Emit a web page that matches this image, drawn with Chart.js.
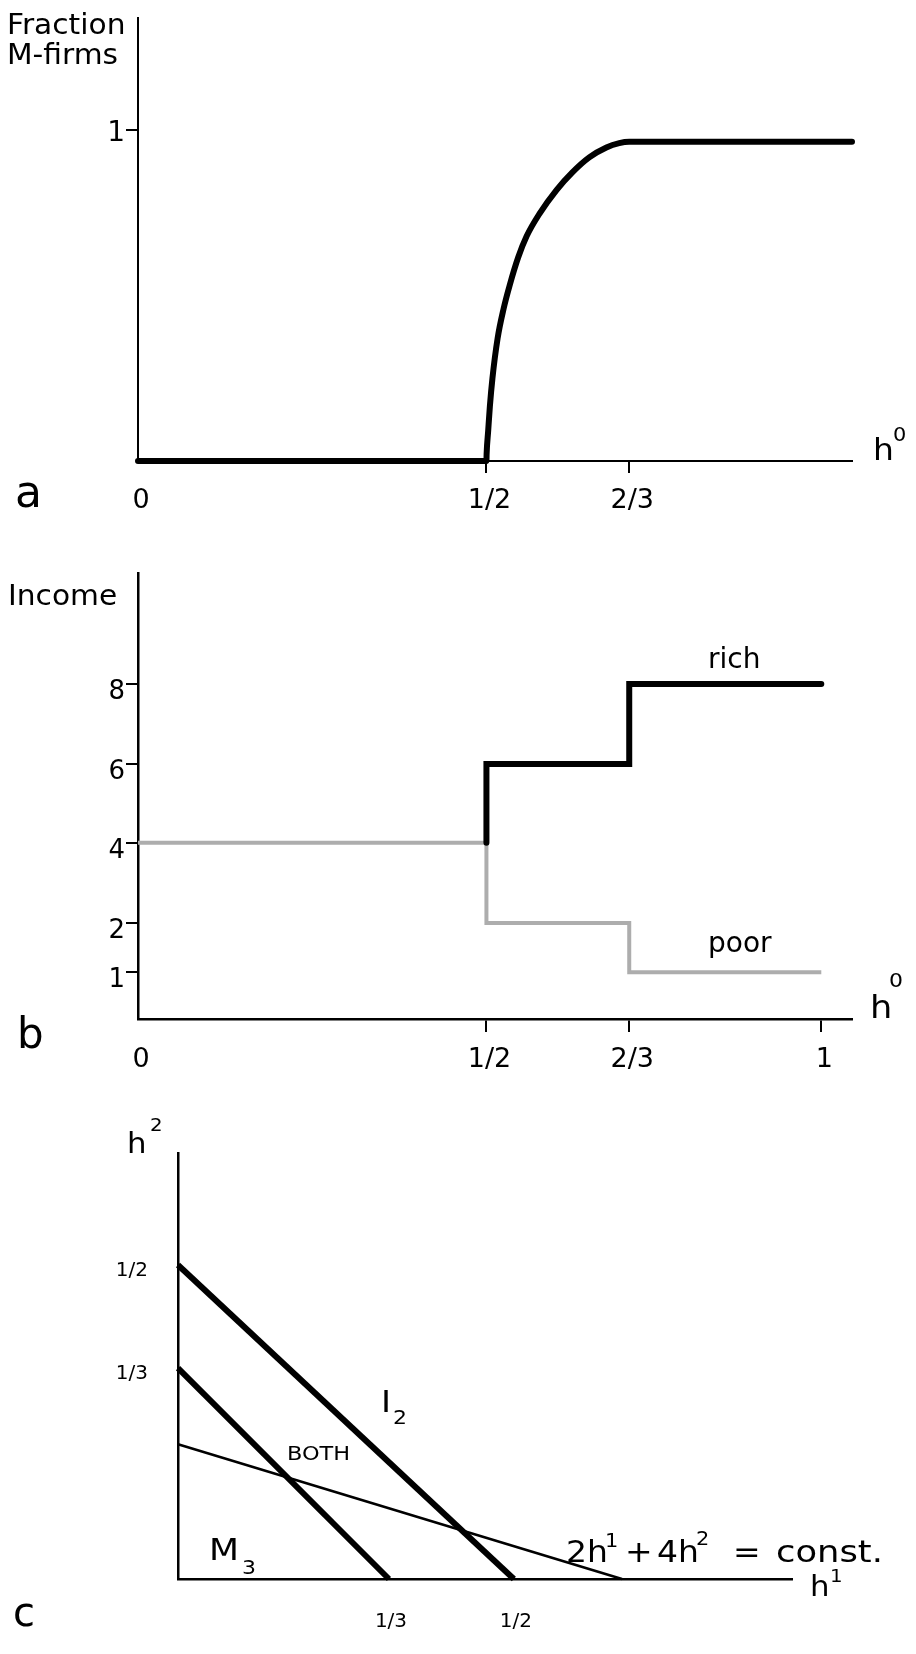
<!DOCTYPE html>
<html>
<head>
<meta charset="utf-8">
<title>Fraction of M-firms, income, and the h1-h2 plane</title>
<script src="https://cdn.jsdelivr.net/npm/chart.js@4.4.1/dist/chart.umd.min.js"></script>
<style>
  html, body { margin: 0; padding: 0; background: #fff; }
  #wrap { position: relative; width: 916px; height: 1654px; }
  canvas { position: absolute; left: 0; top: 0; }
</style>
</head>
<body>
<div id="wrap">
  <canvas id="chartA" width="916" height="1654"></canvas>
  <canvas id="chartB" width="916" height="1654"></canvas>
  <canvas id="chartC" width="916" height="1654"></canvas>
</div>
<script>
// panel a: fraction of M-firms against h0
const mfirmsH0 = [0, 0.5, 0.5002, 0.502, 0.504, 0.507, 0.513, 0.52, 0.527, 0.537, 0.547, 0.562, 0.582, 0.6, 0.62, 0.64, 0.655, 2/3, 1.054];
const mfirmsShare = [0, 0, 0.02, 0.09, 0.165, 0.25, 0.37, 0.46, 0.53, 0.615, 0.68, 0.748, 0.82, 0.872, 0.918, 0.948, 0.961, 0.965, 0.965];

// panel b: income of rich and poor (drawn as steps)
const richH0 = [1/2, 1/2, 2/3, 1];
const richIncome = [4, 6, 8, 8];
const poorH0 = [0, 1/2, 2/3, 1];
const poorIncome = [4, 2, 1, 1];

// panel c: lines in the h1-h2 plane
const m3H1 = [0, 1/3];
const m3H2 = [1/3, 0];
const i2H1 = [0, 1/2];
const i2H2 = [1/2, 0];
const isoH1 = [0, 0.645];
const isoH2 = [0.213, 0];

// tick values and labels
const h0TicksA = [0, 1/2, 2/3];
const h0TicksB = [0, 1/2, 2/3, 1];
const h0Labels = ['0', '1/2', '2/3', '1'];
const fracTicks = [1];
const fracLabels = ['1'];
const incomeTicks = [1, 2, 4, 6, 8];
const incomeLabels = ['1', '2', '4', '6', '8'];
const hTicks = [1/3, 1/2];
const hLabels = ['1/3', '1/2'];

// the figure is schematic: its axes are not evenly spaced, so the scale
// maps values to the axis through a few knots (value, share of axis length)
class KnotScale extends Chart.LinearScale {
  static id = 'knot';
  static defaults = Chart.LinearScale.defaults;
  toDecimal(v) {
    const k = this.options.knots;
    if (v <= k[0][0]) return k[0][1];
    for (let i = 1; i < k.length; i++) {
      if (v <= k[i][0]) {
        const a = k[i - 1], b = k[i];
        return a[1] + (v - a[0]) / (b[0] - a[0]) * (b[1] - a[1]);
      }
    }
    return k[k.length - 1][1];
  }
  fromDecimal(d) {
    const k = this.options.knots;
    for (let i = 1; i < k.length; i++) {
      if (d <= k[i][1]) {
        const a = k[i - 1], b = k[i];
        return a[0] + (d - a[1]) / (b[1] - a[1]) * (b[0] - a[0]);
      }
    }
    return k[k.length - 1][0];
  }
  getPixelForValue(v) {
    return this.getPixelForDecimal(this.toDecimal(v));
  }
  getValueForPixel(p) {
    return this.fromDecimal(this.getDecimalForPixel(p));
  }
}
Chart.register(KnotScale);

const FAMILY = '"DejaVu Sans", "Liberation Sans", sans-serif';
const pts = (xs, ys) => xs.map((x, i) => ({ x: x, y: ys[i] }));
const fixTicks = values => s => { s.ticks = values.map(v => ({ value: v })); };
// axis boxes get a fixed size so the plot area lands where the figure has it
const boxWidth = w => s => { s.width = w; };
const boxHeight = h => s => { s.height = h; };
const hideZero = c => (c.tick && c.tick.value === 0) ? 'rgba(0,0,0,0)' : '#000';

// free text: [text, x, y(baseline), size, horizontal stretch]
function notesPlugin(items) {
  return {
    id: 'notes',
    afterDraw(chart) {
      const ctx = chart.ctx;
      ctx.fillStyle = '#000';
      ctx.textBaseline = 'alphabetic';
      ctx.textAlign = 'left';
      items.forEach(([s, x, y, size, sx]) => {
        ctx.save();
        ctx.translate(x, y);
        ctx.scale(sx || 1.06, 1);
        ctx.font = size + 'px ' + FAMILY;
        ctx.fillText(s, 0, 0);
        ctx.restore();
      });
    }
  };
}

function baseOptions(padding) {
  return {
    responsive: false,
    animation: false,
    events: [],
    layout: { padding: padding },
    plugins: { legend: { display: false }, tooltip: { enabled: false } },
    elements: { point: { radius: 0 } }
  };
}

// ---------- a ----------
const optsA = baseOptions({ left: 0, top: 15, right: 64, bottom: 1133 });
optsA.scales = {
  x: {
    type: 'knot', min: 0, max: 1.054,
    knots: [[0, 0], [1/2, 0.488], [2/3, 0.688], [1, 0.957], [1.054, 1]],
    border: { color: '#000', width: 2 },
    grid: { drawOnChartArea: false, tickLength: 12, lineWidth: 2, color: hideZero },
    ticks: { color: '#000', font: { family: FAMILY, size: 27 }, padding: 12, labelOffset: 3,
      autoSkip: false, maxRotation: 0, callback: (v, i) => h0Labels[i] },
    afterBuildTicks: fixTicks(h0TicksA),
    afterFit: boxHeight(60)
  },
  y: {
    type: 'linear', min: 0, max: 1.34,
    border: { color: '#000', width: 2 },
    grid: { drawOnChartArea: false, tickLength: 12, lineWidth: 2, color: '#000' },
    ticks: { color: '#000', font: { family: FAMILY, size: 28 }, padding: 1, labelOffset: 3,
      callback: (v, i) => fracLabels[i] },
    afterBuildTicks: fixTicks(fracTicks),
    afterFit: boxWidth(138)
  }
};
new Chart(document.getElementById('chartA'), {
  type: 'line',
  data: {
    datasets: [{
      label: 'Fraction M-firms',
      data: pts(mfirmsH0, mfirmsShare),
      borderColor: '#000', borderWidth: 6,
      borderCapStyle: 'round', borderJoinStyle: 'round',
      cubicInterpolationMode: 'monotone', clip: false
    }]
  },
  options: optsA,
  plugins: [notesPlugin([
    ['Fraction', 7, 34, 28],
    ['M-firms', 7, 64, 28],
    ['a', 15, 507, 44, 1],
    ['h', 873, 460, 30, 1.1],
    ['0', 893, 441, 19, 1.1]
  ])]
});

// ---------- b ----------
const optsB = baseOptions({ left: 0, top: 573, right: 64, bottom: 575 });
optsB.scales = {
  x: {
    type: 'knot', min: 0, max: 1.054,
    knots: [[0, 0], [1/2, 0.488], [2/3, 0.688], [1, 0.957], [1.054, 1]],
    border: { color: '#000', width: 2.5 },
    grid: { drawOnChartArea: false, tickLength: 13, lineWidth: 2, color: hideZero },
    ticks: { color: '#000', font: { family: FAMILY, size: 27 }, padding: 12, labelOffset: 3,
      autoSkip: false, maxRotation: 0, callback: (v, i) => h0Labels[i] },
    afterBuildTicks: fixTicks(h0TicksB),
    afterFit: boxHeight(60)
  },
  y: {
    type: 'knot', min: 0, max: 10.79,
    knots: [[0, 0], [1, 0.105], [2, 0.215], [4, 0.395], [6, 0.572], [8, 0.751], [10.79, 1]],
    border: { color: '#000', width: 2.5 },
    grid: { drawOnChartArea: false, tickLength: 12, lineWidth: 2, color: '#000' },
    ticks: { color: '#000', font: { family: FAMILY, size: 26 }, padding: 1, labelOffset: 8,
      callback: (v, i) => incomeLabels[i] },
    afterBuildTicks: fixTicks(incomeTicks),
    afterFit: boxWidth(138)
  }
};
new Chart(document.getElementById('chartB'), {
  type: 'line',
  data: {
    datasets: [
      {
        label: 'rich',
        data: pts(richH0, richIncome),
        stepped: 'before',
        borderColor: '#000', borderWidth: 6,
        borderCapStyle: 'round', borderJoinStyle: 'miter', clip: false
      },
      {
        label: 'poor',
        data: pts(poorH0, poorIncome),
        stepped: 'before',
        borderColor: '#adadad', borderWidth: 4,
        borderJoinStyle: 'miter', clip: false
      }
    ]
  },
  options: optsB,
  plugins: [notesPlugin([
    ['Income', 8, 605, 28],
    ['rich', 708, 668, 28, 1],
    ['poor', 708, 952, 28, 1],
    ['b', 17, 1048, 42, 1],
    ['h', 870, 1018, 32, 1.1],
    ['0', 889, 987, 20, 1.1]
  ])]
});

// ---------- c ----------
const optsC = baseOptions({ left: 0, top: 1153, right: 124, bottom: 15 });
optsC.scales = {
  x: {
    type: 'knot', min: 0, max: 0.873,
    knots: [[0, 0], [1/3, 0.3436], [1/2, 0.547], [0.873, 1]],
    border: { color: '#000', width: 2.5 },
    grid: { display: false, drawTicks: false },
    ticks: { color: '#000', font: { family: FAMILY, size: 20 }, padding: 31, labelOffset: 2,
      autoSkip: false, maxRotation: 0, callback: (v, i) => hLabels[i] },
    afterBuildTicks: fixTicks(hTicks),
    afterFit: boxHeight(60)
  },
  y: {
    type: 'knot', min: 0, max: 0.647,
    knots: [[0, 0], [1/3, 0.495], [1/2, 0.737], [0.647, 1]],
    border: { color: '#000', width: 2.5 },
    grid: { display: false, drawTicks: false },
    ticks: { color: '#000', font: { family: FAMILY, size: 20 }, padding: 30, labelOffset: 6,
      callback: (v, i) => hLabels[i] },
    afterBuildTicks: fixTicks(hTicks),
    afterFit: boxWidth(178)
  }
};
new Chart(document.getElementById('chartC'), {
  type: 'line',
  data: {
    datasets: [
      { label: 'M3', data: pts(m3H1, m3H2), borderColor: '#000', borderWidth: 6, clip: false },
      { label: 'I2', data: pts(i2H1, i2H2), borderColor: '#000', borderWidth: 6, clip: false },
      { label: '2h1 + 4h2 = const.', data: pts(isoH1, isoH2), borderColor: '#000', borderWidth: 2.5, clip: false }
    ]
  },
  options: optsC,
  plugins: [notesPlugin([
    ['h', 127, 1153, 28, 1.1], ['2', 150, 1131, 18, 1.1],
    ['I', 381, 1412, 31, 1.1], ['2', 393, 1424, 20, 1.1],
    ['BOTH', 287, 1460, 20, 1.12],
    ['M', 209, 1560, 31, 1.12], ['3', 242, 1574, 20, 1.1],
    ['2h', 566, 1562, 30, 1.1], ['1', 605, 1547, 19, 1.1],
    ['+', 625, 1562, 30, 1.1],
    ['4h', 657, 1562, 30, 1.1], ['2', 696, 1545, 19, 1.1],
    ['=', 733, 1562, 30, 1.1],
    ['const.', 776, 1562, 31, 1.14],
    ['h', 810, 1596, 28, 1.1], ['1', 830, 1582, 18, 1.1],
    ['c', 13, 1626, 40, 1]
  ])]
});
</script>
</body>
</html>
